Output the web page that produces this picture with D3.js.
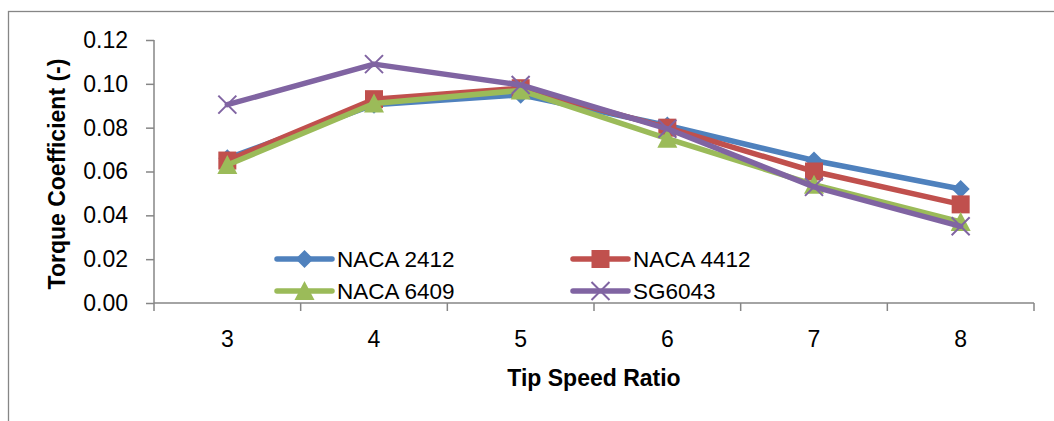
<!DOCTYPE html>
<html>
<head>
<meta charset="utf-8">
<script src="https://cdn.jsdelivr.net/npm/d3@7"></script>
<style>
  body { margin: 0; background: #fff; }
  text { font-family: "Liberation Sans", Arial, sans-serif; fill: #000; }
</style>
</head>
<body>
<div id="container"></div>
<script>
var width = 1054,
    height = 421,
    margin = { left: 154, top: 40, right: 20, bottom: 118 },
    g_width = 880,
    g_height = height - margin.top - margin.bottom;

// data
var tsr = ["3", "4", "5", "6", "7", "8"];
var yTicks = [0, 0.02, 0.04, 0.06, 0.08, 0.10, 0.12];
var naca2412 = [0.066, 0.0905, 0.095, 0.081, 0.065, 0.052];
var naca4412 = [0.065, 0.093, 0.098, 0.080, 0.060, 0.045];
var naca6409 = [0.063, 0.091, 0.097, 0.075, 0.054, 0.037];
var sg6043   = [0.0905, 0.109, 0.0995, 0.0795, 0.053, 0.035];

var series = [
  { name: "NACA 2412", values: naca2412, color: "#4F81BD", marker: "diamond" },
  { name: "NACA 4412", values: naca4412, color: "#C0504D", marker: "square" },
  { name: "NACA 6409", values: naca6409, color: "#9BBB59", marker: "triangle" },
  { name: "SG6043",    values: sg6043,   color: "#8064A2", marker: "x" }
];

var svg = d3.select("#container")
    .append("svg")
    .attr("width", width)
    .attr("height", height);

// chart border
svg.append("rect")
    .attr("x", 8.5).attr("y", 11.5)
    .attr("width", 1060).attr("height", 430)
    .attr("fill", "none")
    .attr("stroke", "#868686")
    .attr("stroke-width", 1.3);

var g = svg.append("g")
    .attr("transform", "translate(" + margin.left + "," + margin.top + ")");

var scale_x = d3.scaleBand()
    .domain(tsr)
    .range([0, g_width]);

var scale_y = d3.scaleLinear()
    .domain([0, 0.12])
    .range([g_height, 0]);

// y axis
var y_axis = d3.axisLeft(scale_y)
    .tickValues(yTicks)
    .tickFormat(d3.format(".2f"))
    .tickSize(8)
    .tickPadding(18);

var gy = g.append("g").call(y_axis);
gy.selectAll("path, line").attr("stroke", "#868686").attr("stroke-width", 1.5);
gy.select(".domain").attr("d", "M0," + g_height + "V0");
gy.selectAll("text").attr("font-size", 23).attr("font-family", "Liberation Sans, Arial, sans-serif").attr("fill", "#000");

// x axis, ticks between categories
var x_axis = d3.axisBottom(scale_x).tickSize(0).tickPadding(28);
var gx = g.append("g")
    .attr("transform", "translate(0," + g_height + ")")
    .call(x_axis);
gx.select(".domain").attr("stroke", "#868686").attr("stroke-width", 1.5)
    .attr("d", "M0,0H" + g_width);
gx.selectAll("text").attr("font-size", 23).attr("font-family", "Liberation Sans, Arial, sans-serif").attr("fill", "#000");

var bounds = tsr.map(function(d) { return scale_x(d); }).concat([g_width]);
gx.selectAll("line.sep")
    .data(bounds)
    .enter().append("line")
    .attr("class", "sep")
    .attr("x1", function(d) { return d; })
    .attr("x2", function(d) { return d; })
    .attr("y1", 0).attr("y2", 8)
    .attr("stroke", "#868686")
    .attr("stroke-width", 1.5);

// axis titles
g.append("text")
    .text("Tip Speed Ratio")
    .attr("x", g_width / 2)
    .attr("y", g_height + 83)
    .attr("text-anchor", "middle")
    .attr("font-size", 23)
    .attr("font-weight", "bold");

g.append("text")
    .text("Torque Coefficient (-)")
    .attr("transform", "translate(" + (65 - margin.left) + "," + (174 - margin.top) + ") rotate(-90)")
    .attr("text-anchor", "middle")
    .attr("font-size", 23)
    .attr("font-weight", "bold");

// markers
function drawMarker(sel, type, color) {
  if (type === "diamond") {
    sel.append("path").attr("d", "M0,-9L9,0L0,9L-9,0Z").attr("fill", color);
  } else if (type === "square") {
    sel.append("rect").attr("x", -9).attr("y", -9).attr("width", 18).attr("height", 18).attr("fill", color);
  } else if (type === "triangle") {
    sel.append("path").attr("d", "M0,-10L10,9L-10,9Z").attr("fill", color);
  } else {
    sel.append("path").attr("d", "M-9,-9L9,9M-9,9L9,-9")
      .attr("stroke", color).attr("stroke-width", 2).attr("fill", "none");
  }
}

var line_generator = d3.line()
    .x(function(d, i) { return scale_x(tsr[i]) + scale_x.bandwidth() / 2; })
    .y(function(d) { return scale_y(d); });

series.forEach(function(s) {
  var sg = g.append("g");
  sg.append("path")
    .attr("d", line_generator(s.values))
    .attr("fill", "none")
    .attr("stroke", s.color)
    .attr("stroke-width", 5.5)
    .attr("stroke-linejoin", "round")
    .attr("stroke-linecap", "round");
  s.values.forEach(function(v, i) {
    var m = sg.append("g")
      .attr("transform", "translate(" + (scale_x(tsr[i]) + scale_x.bandwidth() / 2) + "," + scale_y(v) + ")");
    drawMarker(m, s.marker, s.color);
  });
});

// legend
var legendPos = [[277, 259], [573, 259], [277, 291], [573, 291]];
series.forEach(function(s, i) {
  var lg = svg.append("g")
    .attr("transform", "translate(" + legendPos[i][0] + "," + legendPos[i][1] + ")");
  lg.append("line")
    .attr("x1", 0).attr("x2", 55)
    .attr("y1", 0).attr("y2", 0)
    .attr("stroke", s.color)
    .attr("stroke-width", 5.5)
    .attr("stroke-linecap", "round");
  var m = lg.append("g").attr("transform", "translate(27.5,0)");
  drawMarker(m, s.marker, s.color);
  lg.append("text")
    .text(s.name)
    .attr("x", 60)
    .attr("y", 0)
    .attr("dy", "0.35em")
    .attr("font-size", 22.5);
});
</script>
</body>
</html>
